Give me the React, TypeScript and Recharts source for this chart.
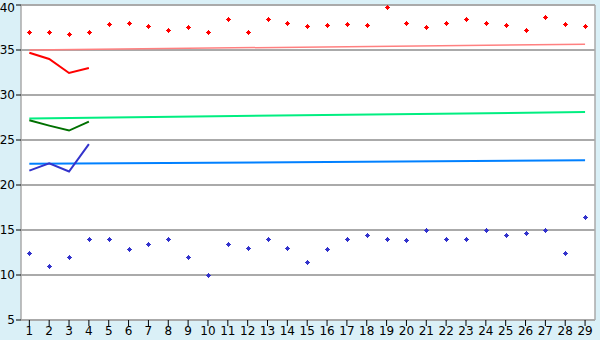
import { CartesianGrid, ComposedChart, Line, Scatter, XAxis, YAxis } from 'recharts'

const days = Array.from({ length: 29 }, (_, i) => i + 1)

const upperPoints = [
  37.0, 37.0, 36.75, 37.0, 37.85, 37.95, 37.65, 37.2, 37.5, 37.05,
  38.4, 37.0, 38.4, 37.95, 37.65, 37.75, 37.85, 37.75, 39.75, 37.95,
  37.5, 37.95, 38.4, 37.95, 37.75, 37.2, 38.65, 37.85, 37.65,
]

const lowerPoints = [
  12.5, 11.0, 12.0, 14.0, 14.0, 12.85, 13.5, 14.0, 12.0, 10.0,
  13.5, 13.0, 14.0, 13.0, 11.5, 12.85, 14.0, 14.5, 14.0, 13.85,
  15.0, 14.0, 14.0, 15.0, 14.5, 14.65, 15.0, 12.5, 16.5,
]

const redLine = [34.7, 34.0, 32.45, 33.0]
const darkGreenLine = [27.2, 26.6, 26.05, 27.05]
const blueLine = [21.6, 22.4, 21.5, 24.55]

// trend endpoints (first and last day)
const pinkTrend = [35.0, 35.65]
const greenTrend = [27.4, 28.1]
const blueTrend = [22.35, 22.75]

const yTicks = [5, 10, 15, 20, 25, 30, 35, 40]

const data = days.map((day, i) => ({
  day,
  upper: upperPoints[i],
  lower: lowerPoints[i],
  red: redLine[i] ?? null,
  darkGreen: darkGreenLine[i] ?? null,
  blue: blueLine[i] ?? null,
  pink: i === 0 ? pinkTrend[0] : i === days.length - 1 ? pinkTrend[1] : null,
  green: i === 0 ? greenTrend[0] : i === days.length - 1 ? greenTrend[1] : null,
  lightBlue: i === 0 ? blueTrend[0] : i === days.length - 1 ? blueTrend[1] : null,
}))

function PlusMarker({ cx, cy, fill }: { cx?: number; cy?: number; fill?: string }) {
  if (cx == null || cy == null) return null
  const x = Math.round(cx)
  const y = Math.round(cy)
  return (
    <g shapeRendering="crispEdges">
      <rect x={x - 1} y={y - 1} width={3} height={3} fill={fill} />
      <rect x={x} y={y - 2} width={1} height={5} fill={fill} />
      <rect x={x - 2} y={y} width={5} height={1} fill={fill} />
    </g>
  )
}

const tickStyle = { fontSize: 12, fill: '#000', fontFamily: 'DejaVu Sans' }

export default function App() {
  return (
    <div style={{ position: 'absolute', left: 0, top: 0, width: 600, height: 340, background: '#daf0f7' }}>
      <ComposedChart width={600} height={340} data={data} margin={{ top: 5, right: 0, bottom: 0, left: 0 }}>
        <CartesianGrid
          yAxisId="left"
          vertical={false}
          stroke="#aaaaaa"
          fill="#ffffff"
          strokeWidth={1.5}
          shapeRendering="crispEdges"
        />
        <XAxis
          dataKey="day"
          type="number"
          domain={[0.58, 29.5]}
          ticks={days}
          interval={0}
          allowDataOverflow
          height={20}
          tick={tickStyle}
          tickSize={6}
          tickMargin={0}
          tickLine={{ stroke: '#000' }}
          axisLine={{ stroke: '#aaaaaa', strokeWidth: 1.5 }}
        />
        <YAxis
          yAxisId="left"
          domain={[5, 40]}
          ticks={yTicks}
          width={21}
          tick={tickStyle}
          tickSize={5}
          tickMargin={1}
          tickLine={{ stroke: '#000' }}
          axisLine={{ stroke: '#aaaaaa', strokeWidth: 1.5 }}
        />
        <YAxis
          yAxisId="right"
          orientation="right"
          domain={[5, 40]}
          width={5}
          tick={false}
          tickLine={false}
          axisLine={{ stroke: '#aaaaaa', strokeWidth: 1.5 }}
        />
        <Line yAxisId="left" dataKey="pink" stroke="#ff8080" strokeWidth={1.5} dot={false} connectNulls isAnimationActive={false} />
        <Line yAxisId="left" dataKey="green" stroke="#00ee80" strokeWidth={2} dot={false} connectNulls isAnimationActive={false} />
        <Line yAxisId="left" dataKey="lightBlue" stroke="#0080ff" strokeWidth={2} dot={false} connectNulls isAnimationActive={false} />
        <Line yAxisId="left" dataKey="red" stroke="#ff0000" strokeWidth={2} dot={false} isAnimationActive={false} />
        <Line yAxisId="left" dataKey="darkGreen" stroke="#007000" strokeWidth={2} dot={false} isAnimationActive={false} />
        <Line yAxisId="left" dataKey="blue" stroke="#3333cc" strokeWidth={2} dot={false} isAnimationActive={false} />
        <Scatter yAxisId="left" dataKey="upper" fill="#ff0000" shape={<PlusMarker />} isAnimationActive={false} />
        <Scatter yAxisId="left" dataKey="lower" fill="#3333cc" shape={<PlusMarker />} isAnimationActive={false} />
      </ComposedChart>
    </div>
  )
}
